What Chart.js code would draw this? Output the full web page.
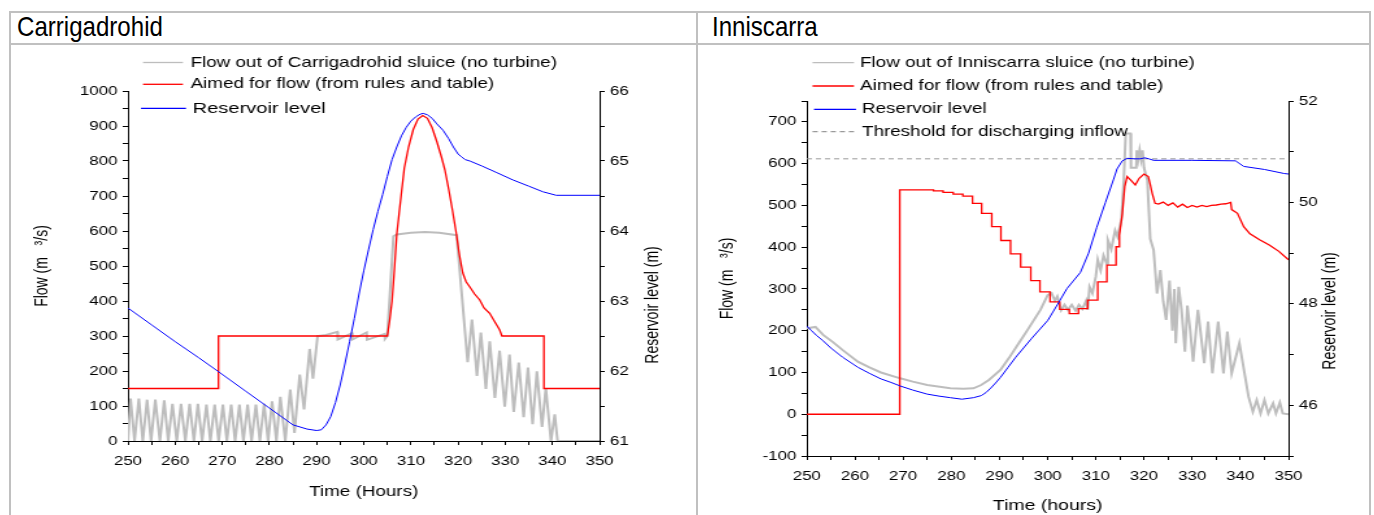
<!DOCTYPE html>
<html>
<head>
<meta charset="utf-8">
<script src="https://cdn.jsdelivr.net/npm/chart.js@4.4.1/dist/chart.umd.min.js"></script>
<style>
  body { margin: 0; background: #fff; width: 1374px; height: 515px; overflow: hidden; position: relative;
         font-family: 'Liberation Sans', Arial, sans-serif; }
  .ln { position: absolute; background: #c0c0c0; }
  .head { position: absolute; top: 13px; font-size: 28px; line-height: 28px; color: #000;
          transform: scaleX(0.86); transform-origin: 0 0; white-space: nowrap; }
  .box { position: absolute; top: 46px; height: 469px; transform-origin: 0 0; }
</style>
</head>
<body>
<div class="ln" style="left:9px;top:11px;width:1362px;height:2px"></div>
<div class="ln" style="left:9px;top:43px;width:1362px;height:2px"></div>
<div class="ln" style="left:9px;top:11px;width:2px;height:504px"></div>
<div class="ln" style="left:696px;top:11px;width:2px;height:504px"></div>
<div class="ln" style="left:1369px;top:11px;width:2px;height:504px"></div>
<div class="head" style="left:17px">Carrigadrohid</div>
<div class="head" style="left:712px">Inniscarra</div>

<div class="box" id="boxL" style="left:11px;width:528px;transform:scaleX(1.29924)"><canvas id="chartL"></canvas></div>
<div class="box" id="boxR" style="left:699px;width:516px;transform:scaleX(1.29845)"><canvas id="chartR"></canvas></div>

<script>
// ---- Carrigadrohid ----
const carrSluiceHours = [250, 250.56, 251.4, 252.31, 253.15, 254.06, 254.9, 255.8, 256.78, 257.69,
  258.53, 259.44, 260.35, 261.26, 262.17, 263.08, 263.99, 264.83, 265.73, 266.64,
  267.48, 268.39, 269.23, 270.14, 270.98, 271.89, 272.73, 273.64, 274.48, 275.38,
  276.22, 277.13, 277.97, 278.88, 279.72, 280.56, 281.47, 282.31, 283.36, 284.41,
  285.31, 286.43, 287.34, 288.53, 289.23, 290.21, 292, 294.4, 294.5, 297.5,
  297.6, 300.6, 300.7, 304.4, 304.5, 305, 306.3, 307, 310, 313,
  316, 319.7, 322.03, 322.94, 324, 324.83, 325.9, 326.71, 327.8, 328.81,
  329.9, 330.91, 331.8, 332.87, 333.9, 334.83, 335.8, 336.71, 337.8, 338.6,
  339.7, 340.49, 341.1, 350];
const carrSluiceFlow = [0, 121, 0, 121, 0, 118, 0, 118, 0, 116,
  0, 106, 0, 106, 0, 106, 0, 106, 0, 104,
  0, 104, 0, 104, 0, 104, 0, 104, 0, 104,
  0, 104, 0, 106, 0, 113, 0, 126, 0, 147,
  23, 190, 90, 263, 178, 300, 303, 312, 290, 308,
  290, 310, 289, 306, 292, 300, 585, 590, 595, 597,
  595, 588, 225, 347, 186, 310, 149, 285, 123, 258,
  98, 247, 83, 224, 68, 210, 48, 199, 40, 151,
  0, 76, 0, 0];

const carrAimedHours = [250, 269.2, 269.2, 305, 305.5, 306, 306.5, 307, 307.5, 308,
  308.6, 309.5, 310.5, 311.5, 312.5, 313.5, 314.5, 315.5, 316.5, 317.2,
  318, 318.8, 319.6, 320.3, 321, 321.7, 322.5, 323.5, 324.6, 325.5,
  326.7, 327.8, 328.8, 329.3, 338.2, 338.2, 350];
const carrAimedFlow = [150, 150, 300, 300, 345, 400, 490, 590, 650, 710,
  780, 840, 890, 920, 930, 922, 895, 855, 810, 775,
  720, 660, 595, 530, 480, 455, 440, 420, 403, 380,
  365, 340, 318, 300, 300, 150, 150];

const carrLevelHours = [250, 255, 260, 265, 269, 275, 280, 285, 288, 290,
  291, 292, 293, 294, 295, 296, 297, 298, 299, 300,
  301, 302, 303, 304, 305, 306, 307, 308, 309, 310,
  311, 312, 312.6, 313.5, 314.5, 315.5, 316.8, 318, 319, 320,
  320.7, 321.5, 322.5, 325, 328, 331.6, 335, 338, 340.8, 350];
const carrLevel = [62.90, 62.66, 62.42, 62.19, 62.00, 61.71, 61.47, 61.23, 61.17, 61.15,
  61.16, 61.23, 61.35, 61.55, 61.80, 62.10, 62.42, 62.75, 63.10, 63.43,
  63.73, 64.02, 64.28, 64.52, 64.78, 65.02, 65.20, 65.36, 65.48, 65.57,
  65.63, 65.67, 65.68, 65.66, 65.61, 65.53, 65.44, 65.32, 65.20, 65.10,
  65.06, 65.02, 65.00, 64.93, 64.84, 64.73, 64.64, 64.56, 64.51, 64.51];

// ---- Inniscarra ----
const innSluiceHours = [250, 251.8, 253.4, 255.5, 257.4, 260.6, 263, 265.4, 269.4, 272,
  275, 279.8, 282.5, 284.6, 286.2, 287.8, 290.2, 292, 294, 296,
  298.5, 300, 300.8, 301.5, 302, 302.8, 303.5, 304.2, 305, 305.8,
  306.5, 307.2, 308, 308.3, 308.7, 309.3, 310, 310.4, 311, 311.6,
  312.3, 312.5, 313.2, 314, 314.5, 315.3, 315.8, 316.2, 317.2, 317.3,
  318.4, 318.5, 318.8, 319.1, 319.4, 319.7, 320, 320.7, 321.3, 322,
  322.7, 323.4, 324, 324.6, 325.3, 325.9, 326.3, 326.6, 327.2, 327.8,
  328.5, 329, 329.6, 330.2, 331.2, 332.5, 333.3, 334.2, 335.4, 336.5,
  337.3, 338.2, 339.8, 341.7, 342.6, 343.4, 344.2, 345, 345.8, 346.8,
  347.4, 348.2, 348.8, 350];
const innSluiceFlow = [206, 209, 190, 172, 154, 126, 112, 100, 86, 78,
  70, 62, 61, 62, 70, 82, 106, 135, 170, 205,
  250, 285, 290, 272, 282, 249, 262, 250, 262, 248,
  262, 252, 272, 250, 305, 290, 330, 370, 345, 380,
  360, 417, 395, 440, 425, 465, 560, 672, 672, 590,
  590, 632, 610, 632, 610, 632, 590, 560, 420, 393,
  289, 345, 270, 226, 320, 200, 300, 170, 305, 250,
  150, 260, 200, 126, 250, 122, 222, 98, 222, 98,
  198, 98, 170, 42, 6, 34, 2, 34, 2, 26,
  2, 28, 2, 0];

const innAimedHours = [250, 269.3, 269.3, 276.3, 276.3, 278.3, 278.3, 280.4, 280.4, 282.4,
  282.4, 284.4, 284.4, 286.3, 286.3, 288.4, 288.4, 290.3, 290.3, 292.3,
  292.3, 294.4, 294.4, 296.5, 296.5, 298.4, 298.4, 300.5, 300.5, 302.5,
  302.5, 304.5, 304.5, 306.4, 306.4, 308.3, 308.3, 310.4, 310.4, 312.3,
  312.3, 314.2, 314.2, 314.9, 314.9, 315.5, 316, 316.5, 317.3, 318.2,
  319, 320, 320.9, 321.3, 321.7, 322.3, 323, 324, 325, 326,
  327, 328, 329, 330, 331, 332, 333, 334, 335, 336,
  337, 338, 338.2, 339.4, 340.7, 342, 344, 346, 348, 350];
const innAimedFlow = [0, 0, 537, 537, 535, 535, 531, 531, 527, 527,
  522, 522, 505, 505, 481, 481, 449, 449, 416, 416,
  384, 384, 352, 352, 320, 320, 293, 293, 269, 269,
  251, 251, 241, 241, 253, 253, 273, 273, 317, 317,
  357, 357, 401, 401, 429, 480, 545, 569, 560, 549,
  565, 575, 569, 550, 529, 505, 503, 508, 500, 506,
  496, 503, 495, 500, 496, 500, 497, 500, 501, 503,
  504, 507, 490, 481, 449, 432, 418, 405, 390, 370];

const innLevelHours = [250, 251, 252, 253.4, 255, 257.4, 260.6, 263, 265.4, 267.5,
  269.4, 272, 275, 277.5, 279.8, 282.2, 284.6, 286.2, 287.2, 288.2,
  289.2, 290.2, 291.8, 293.4, 295, 296.6, 298.2, 300, 302, 304,
  306.8, 308.5, 310.2, 312, 313.7, 314.4, 315.5, 316.5, 318, 319.2,
  320.2, 321, 322, 330, 339, 340.7, 345, 349.1, 350];
const innLevel = [47.56, 47.47, 47.38, 47.27, 47.13, 46.95, 46.75, 46.63, 46.52, 46.45,
  46.38, 46.30, 46.22, 46.18, 46.15, 46.12, 46.15, 46.19, 46.25, 46.34,
  46.44, 46.55, 46.75, 46.95, 47.13, 47.31, 47.48, 47.67, 47.98, 48.30,
  48.62, 49.00, 49.51, 50.00, 50.46, 50.66, 50.82, 50.87, 50.86, 50.86,
  50.88, 50.86, 50.83, 50.83, 50.82, 50.71, 50.65, 50.57, 50.56];

const thresholdHours = [250, 350];
const thresholdLevel = [50.86, 50.86];

// ---- page layout (px) ----
const T = 46, H = 469;
const L1 = 11, IW1 = 528, S1 = 686 / 528;
const L2 = 699, IW2 = 516, S2 = 670 / 516;

Chart.defaults.font.family = "'Liberation Sans', Arial, sans-serif";
Chart.defaults.font.size = 13;
Chart.defaults.color = '#000';
Chart.defaults.animation = false;

const GRAY = '#bdbdbd', RED = '#ff0000', BLUE = '#0000ff';

function zip(xs, ys) {
  return xs.map((x, i) => ({ x: x, y: ys[i] }));
}

function lineSet(label, xs, ys, color, width, axis, order, dash) {
  return {
    label: label, data: zip(xs, ys), borderColor: color, borderWidth: width,
    borderDash: dash || [], pointRadius: 0, tension: 0, yAxisID: axis, order: order
  };
}

// legend drawn from dataset labels at fixed places
function makeLegend(items) {
  return {
    id: 'lineLegend',
    afterDatasetsDraw(chart) {
      const ctx = chart.ctx;
      items.forEach(it => {
        const ds = chart.data.datasets[it.ds];
        ctx.save();
        ctx.strokeStyle = ds.borderColor;
        ctx.lineWidth = 1.3;
        ctx.setLineDash(ds.borderDash || []);
        ctx.beginPath();
        ctx.moveTo(it.x0, it.y);
        ctx.lineTo(it.x1, it.y);
        ctx.stroke();
        ctx.setLineDash([]);
        ctx.font = it.size + "px 'Liberation Sans', Arial, sans-serif";
        ctx.fillStyle = '#000';
        ctx.textAlign = 'left';
        ctx.textBaseline = 'middle';
        ctx.fillText(ds.label, it.tx, it.y);
        ctx.restore();
      });
    }
  };
}

// title of the right axis, reading bottom to top
function makeSideTitle(text, x, y) {
  return {
    id: 'sideTitle',
    afterDraw(chart) {
      const ctx = chart.ctx;
      ctx.save();
      ctx.translate(x, y);
      ctx.rotate(-Math.PI / 2);
      ctx.font = "14px 'Liberation Sans', Arial, sans-serif";
      ctx.fillStyle = '#000';
      ctx.textAlign = 'center';
      ctx.textBaseline = 'middle';
      ctx.fillText(text, 0, 0);
      ctx.restore();
    }
  };
}

function axisX(title, size, pad, height) {
  return {
    type: 'linear', min: 250, max: 350,
    border: { color: '#000', width: 1 },
    grid: { drawOnChartArea: false, color: '#000', tickLength: 4 },
    ticks: { stepSize: 5, autoSkip: false, maxRotation: 0, padding: 9,
             callback: v => (v % 10 === 0 ? String(v) : '') },
    title: { display: true, text: title, font: { size: size }, padding: { top: 0, bottom: pad } },
    afterFit: s => { s.height = height; }
  };
}

function axisY(pos, min, max, step, every, width, title, pad) {
  const a = {
    type: 'linear', position: pos, min: min, max: max,
    border: { color: '#000', width: 1 },
    grid: { drawOnChartArea: false, color: '#000', tickLength: 4 },
    ticks: { stepSize: step, autoSkip: false, padding: 4,
             callback: v => (Math.abs(v / every - Math.round(v / every)) < 1e-6 ? String(v) : '') },
    afterFit: s => { s.width = width; }
  };
  if (title) {
    a.title = { display: true, text: title, font: { size: 14 }, padding: { top: pad, bottom: 0 } };
  }
  return a;
}

// ---- Carrigadrohid chart ----
const x1 = px => (px - L1) / S1;
new Chart(document.getElementById('chartL'), {
  type: 'line',
  data: {
    datasets: [
      lineSet('Flow out of Carrigadrohid sluice (no turbine)', carrSluiceHours, carrSluiceFlow, GRAY, 2, 'y', 3),
      lineSet('Aimed for flow (from rules and table)', carrAimedHours, carrAimedFlow, RED, 1.3, 'y', 2),
      lineSet('Reservoir level', carrLevelHours, carrLevel, BLUE, 1, 'y1', 1)
    ]
  },
  options: {
    responsive: true, maintainAspectRatio: false, devicePixelRatio: 1,
    layout: { padding: { top: 91 - T, left: 0, right: 0, bottom: 0 } },
    plugins: { legend: { display: false }, tooltip: { enabled: false } },
    scales: {
      x: axisX('Time (Hours)', 14.5, 14.3, H - (441 - T)),
      y: axisY('left', 0, 1000, 50, 100, Math.round(x1(128)), 'Flow (m   \u00b3/s)', x1(42) - 8.4),
      y1: axisY('right', 61, 66, 0.5, 1, IW1 - Math.round(x1(600)))
    }
  },
  plugins: [
    makeLegend([
      { ds: 0, y: 62.5 - T, x0: x1(143), x1: x1(183), tx: x1(190.5), size: 14.5 },
      { ds: 1, y: 84.3 - T, x0: x1(143), x1: x1(183), tx: x1(190.5), size: 14.5 },
      { ds: 2, y: 108.3 - T, x0: x1(141), x1: x1(186), tx: x1(192.5), size: 15.5 }
    ]),
    makeSideTitle('Reservoir level (m)', x1(653), 305 - T)
  ]
});

// ---- Inniscarra chart ----
const x2 = px => (px - L2) / S2;
new Chart(document.getElementById('chartR'), {
  type: 'line',
  data: {
    datasets: [
      lineSet('Flow out of Inniscarra sluice (no turbine)', innSluiceHours, innSluiceFlow, GRAY, 2, 'y', 3),
      lineSet('Aimed for flow (from rules and table)', innAimedHours, innAimedFlow, RED, 1.3, 'y', 2),
      lineSet('Reservoir level', innLevelHours, innLevel, BLUE, 1, 'y1', 1),
      lineSet('Threshold for discharging inflow', thresholdHours, thresholdLevel, '#9a9a9a', 1, 'y1', 4, [4, 3])
    ]
  },
  options: {
    responsive: true, maintainAspectRatio: false, devicePixelRatio: 1,
    layout: { padding: { top: 101 - T, left: 0, right: 0, bottom: 0 } },
    plugins: { legend: { display: false }, tooltip: { enabled: false } },
    scales: {
      x: axisX('Time (hours)', 15, 0, H - (456 - T)),
      y: axisY('left', -100, 750, 50, 100, Math.round(x2(807)), 'Flow (m   \u00b3/s)', x2(728) - 8.4),
      y1: axisY('right', 45, 52, 1, 2, IW2 - Math.round(x2(1288)))
    }
  },
  plugins: [
    makeLegend([
      { ds: 0, y: 62.7 - T, x0: x2(812.5), x1: x2(854), tx: x2(860), size: 14.5 },
      { ds: 1, y: 86 - T, x0: x2(812.5), x1: x2(854), tx: x2(860), size: 14.5 },
      { ds: 2, y: 109.3 - T, x0: x2(814), x1: x2(856), tx: x2(862), size: 14.5 },
      { ds: 3, y: 131.7 - T, x0: x2(812.5), x1: x2(854), tx: x2(862), size: 14.5 }
    ]),
    makeSideTitle('Reservoir level (m)', x2(1330.5), 311 - T)
  ]
});
</script>
</body>
</html>
